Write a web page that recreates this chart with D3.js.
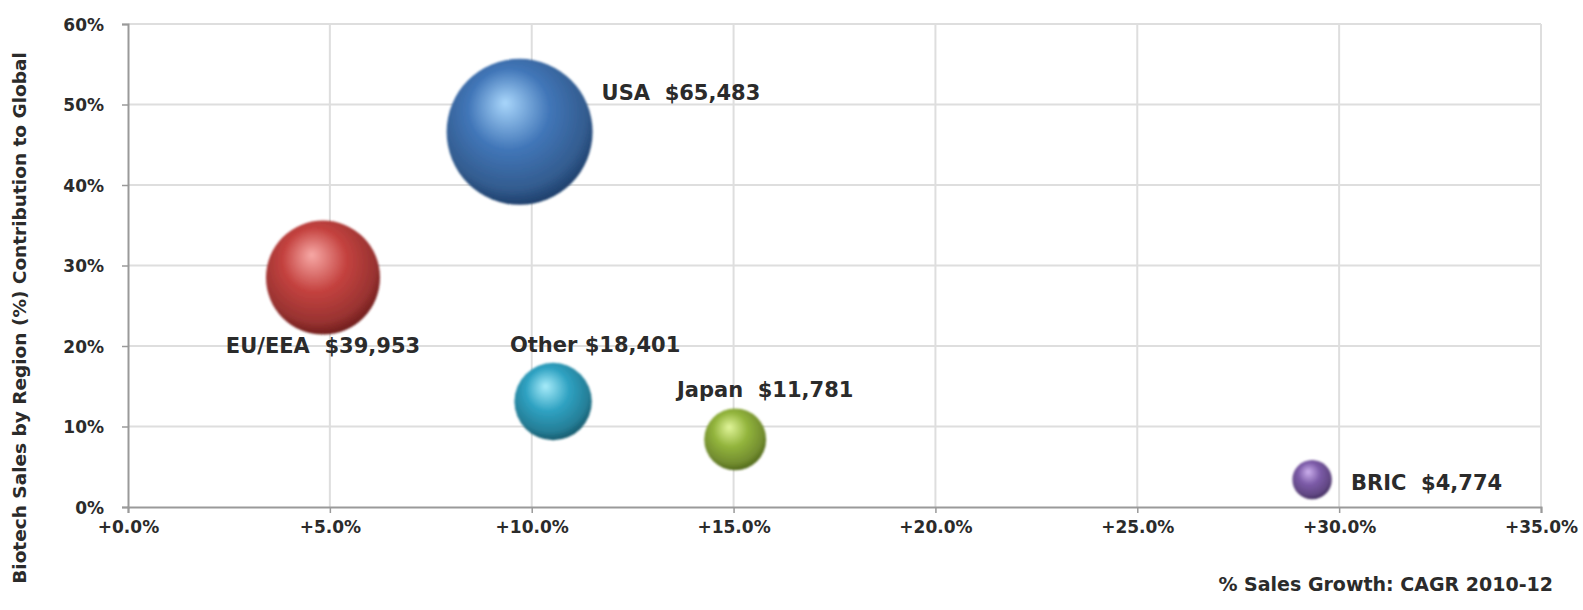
<!DOCTYPE html>
<html>
<head>
<meta charset="utf-8">
<script src="https://cdn.jsdelivr.net/npm/d3@7"></script>
<style>
  html, body { margin: 0; padding: 0; background: #fff; }
  svg { display: block; }
  text { font-family: "DejaVu Sans", sans-serif; font-weight: bold; fill: #2b2b2b; }
</style>
</head>
<body>
<svg id="chart" width="1583" height="610"></svg>
<script>
// Regions, their sales growth (CAGR 2010-12), share of global biotech sales and sales ($M)
const regions = ["USA", "EU/EEA", "Other", "Japan", "BRIC"];
const growth  = [0.097, 0.0483, 0.1053, 0.1504, 0.2933];
const share   = [0.466, 0.285, 0.131, 0.084, 0.034];
const sales   = [65483, 39953, 18401, 11781, 4774];
const labels  = ["USA  $65,483", "EU/EEA  $39,953", "Other $18,401", "Japan  $11,781", "BRIC  $4,774"];

const xTicks = [0, 0.05, 0.10, 0.15, 0.20, 0.25, 0.30, 0.35];
const yTicks = [0, 0.1, 0.2, 0.3, 0.4, 0.5, 0.6];

// Sphere shading per region: highlight, body, rim
const shades = {
  "USA":    ["#a9d6fb", "#4176b8", "#1a3a66"],
  "EU/EEA": ["#f7a9a6", "#c4423f", "#6a1a19"],
  "Other":  ["#a8ecfa", "#2fa2c2", "#135466"],
  "Japan":  ["#e1f59a", "#92b43c", "#4a6216"],
  "BRIC":   ["#cdb1ee", "#7c5ba8", "#3b2759"]
};

// Where each data label sits relative to its bubble
const labelPlacement = {
  "USA":    { anchor: "start",  dx: 82, dy: -39 },
  "EU/EEA": { anchor: "middle", dx: 0,  dy: 68 },
  "Other":  { anchor: "middle", dx: 42, dy: -57 },
  "Japan":  { anchor: "middle", dx: 30, dy: -49 },
  "BRIC":   { anchor: "start",  dx: 39, dy: 3 }
};

const svg = d3.select("#chart");
const plot = { left: 128, right: 1541, top: 24, bottom: 507 };

const x = d3.scaleLinear().domain([0, 0.35]).range([plot.left, plot.right]);
const y = d3.scaleLinear().domain([0, 0.6]).range([plot.bottom, plot.top]);
const r = d3.scaleSqrt().domain([0, d3.max(sales)]).range([0, 73]);

// Gradients for the 3D bubbles
const defs = svg.append("defs");
regions.forEach((name, i) => {
  const g = defs.append("radialGradient")
    .attr("id", "grad" + i)
    .attr("cx", "0.46").attr("cy", "0.40").attr("r", "0.62")
    .attr("fx", "0.40").attr("fy", "0.30");
  const [hi, mid, dark] = shades[name];
  g.append("stop").attr("offset", "0").attr("stop-color", hi);
  g.append("stop").attr("offset", "0.45").attr("stop-color", mid);
  g.append("stop").attr("offset", "0.82").attr("stop-color", d3.color(mid).darker(0.7));
  g.append("stop").attr("offset", "1").attr("stop-color", dark);
});
defs.append("filter").attr("id", "soft")
  .append("feGaussianBlur").attr("stdDeviation", 0.8);

// Gridlines
svg.append("g").selectAll("line").data(yTicks.filter(d => d > 0)).join("line")
  .attr("x1", plot.left).attr("x2", plot.right)
  .attr("y1", d => y(d)).attr("y2", d => y(d))
  .attr("stroke", "#dedede").attr("stroke-width", 2);
svg.append("g").selectAll("line").data(xTicks.filter(d => d > 0)).join("line")
  .attr("x1", d => x(d)).attr("x2", d => x(d))
  .attr("y1", plot.top).attr("y2", plot.bottom)
  .attr("stroke", "#dedede").attr("stroke-width", 2);

// Axes
const xAxis = svg.append("g")
  .attr("transform", `translate(0,${plot.bottom})`)
  .call(d3.axisBottom(x).tickValues(xTicks).tickSize(6).tickPadding(8)
        .tickFormat(d => "+" + d3.format(".1%")(d)));
const yAxis = svg.append("g")
  .attr("transform", `translate(${plot.left},0)`)
  .call(d3.axisLeft(y).tickValues(yTicks).tickSize(6).tickPadding(18)
        .tickFormat(d3.format(".0%")));

[xAxis, yAxis].forEach(a => {
  a.select(".domain").attr("stroke", "#9a9a9a").attr("stroke-width", 2);
  a.selectAll(".tick line").attr("stroke", "#9a9a9a").attr("stroke-width", 1.5);
  a.selectAll(".tick text")
    .attr("font-family", "DejaVu Sans, sans-serif")
    .attr("font-weight", "bold")
    .attr("font-size", 17)
    .attr("fill", "#3a3a3a");
});
yAxis.selectAll(".tick text").attr("dy", "0.36em");

// Bubbles
const pts = regions.map((name, i) => ({
  name, i, cx: x(growth[i]), cy: y(share[i]), rad: r(sales[i]), label: labels[i]
}));

svg.append("g").selectAll("circle").data(pts).join("circle")
  .attr("cx", d => d.cx).attr("cy", d => d.cy).attr("r", d => d.rad)
  .attr("fill", d => `url(#grad${d.i})`)
  .attr("filter", "url(#soft)");

// Data labels
svg.append("g").selectAll("text").data(pts).join("text")
  .attr("x", d => d.cx + labelPlacement[d.name].dx)
  .attr("y", d => d.cy + labelPlacement[d.name].dy)
  .attr("text-anchor", d => labelPlacement[d.name].anchor)
  .attr("dominant-baseline", "central")
  .attr("font-size", 21)
  .style("white-space", "pre")
  .text(d => d.label);

// Axis titles
svg.append("text")
  .attr("x", 1553).attr("y", 584)
  .attr("text-anchor", "end").attr("dominant-baseline", "central")
  .attr("font-size", 19)
  .text("% Sales Growth: CAGR 2010-12");

svg.append("text")
  .attr("transform", "translate(19,318) rotate(-90)")
  .attr("text-anchor", "middle").attr("dominant-baseline", "central")
  .attr("font-size", 18.5)
  .text("Biotech Sales by Region (%) Contribution to Global");
</script>
</body>
</html>
